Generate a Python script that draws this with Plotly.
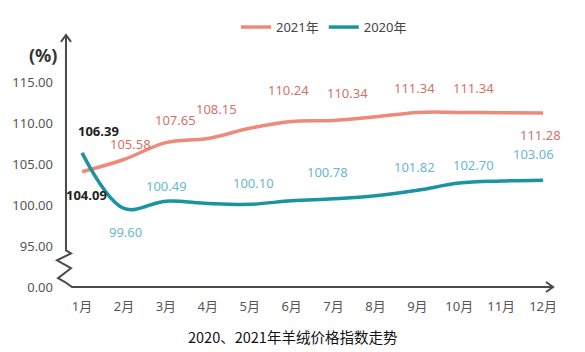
import plotly.graph_objects as go

# ---------------- data ----------------
months = ["1月", "2月", "3月", "4月", "5月", "6月", "7月", "8月", "9月", "10月", "11月", "12月"]
month_idx = list(range(1, 13))
vals_2021 = [104.09, 105.58, 107.65, 108.15, 109.40, 110.24, 110.34, 110.80, 111.34, 111.34, 111.30, 111.28]
vals_2020 = [106.39, 99.60, 100.49, 100.20, 100.10, 100.55, 100.78, 101.15, 101.82, 102.70, 102.95, 103.06]
labeled_2021 = [1, 2, 3, 4, 6, 7, 9, 10, 12]
labeled_2020 = [1, 2, 3, 5, 7, 9, 10, 12]
ytick_vals = [90, 95, 100, 105, 110, 115]
ytick_text = ["0.00", "95.00", "100.00", "105.00", "110.00", "115.00"]
title_text = "2020、2021年羊绒价格指数走势"

# ---------------- style ----------------
W, H = 585, 352
L, R, T, B = 65, 31, 33, 65
PW, PH = W - L - R, H - T - B
C21 = "#EE8A79"
C20 = "#1B94A1"
C21_TXT = "#D2736B"
C20_TXT = "#6BB7CD"
FONT = "Noto Sans, Noto Sans CJK SC"
CJK = "Noto Sans CJK SC"

# label offsets (pixels) per labeled month
off_2021 = {1: (4, -23), 2: (7, 16), 3: (10, 23), 4: (9, 29), 6: (-3, 31),
            7: (14, 28), 9: (-3, 24), 10: (14, 24), 12: (-3, -22)}
off_2020 = {1: (16, 22), 2: (2, -24), 3: (1, 15), 5: (4, 21), 7: (-6, 27),
            9: (-3, 23), 10: (14, 18), 12: (-10, 26)}

fig = go.Figure()
fig.add_trace(go.Scatter(x=month_idx, y=vals_2021, name="2021年", mode="lines",
                         line=dict(color=C21, width=3.5, shape="spline", smoothing=1.0)))
fig.add_trace(go.Scatter(x=month_idx, y=vals_2020, name="2020年", mode="lines",
                         line=dict(color=C20, width=3.5, shape="spline", smoothing=1.0)))

annotations = []
for vals, labeled, offs, col in ((vals_2021, labeled_2021, off_2021, C21_TXT),
                                 (vals_2020, labeled_2020, off_2020, C20_TXT)):
    for m in labeled:
        dx, dy = offs[m]
        first = (m == 1)
        txt = f"{vals[m-1]:.2f}"
        annotations.append(dict(x=m, y=vals[m - 1], text=f"<b>{txt}</b>" if first else txt,
                                showarrow=False, xshift=dx, yshift=dy, xanchor="center", yanchor="middle",
                                font=dict(family=FONT, size=13, color="#222222" if first else col)))


def px(xp, yp):
    return (xp - L) / PW, (287 - yp) / PH


# (%) unit label
ux, uy = px(43, 52)
annotations.append(dict(x=ux, y=uy, xref="paper", yref="paper", xanchor="center", yanchor="middle",
                        text="<b>(%)</b>", showarrow=False,
                        font=dict(family=FONT, size=18, color="#333333")))
# bottom title
tx, ty = px(292, 337)
annotations.append(dict(x=tx, y=ty, xref="paper", yref="paper", xanchor="center", yanchor="middle",
                        text=title_text, showarrow=False,
                        font=dict(family=CJK, size=14.5, color="#111111")))

axis_pts = [(66, 33), (66, 250), (71, 253), (57, 260), (71, 268), (58, 278), (65, 282), (72, 287), (553, 287)]
top_arrow = [(61, 39), (66, 32), (71, 39)]
right_arrow = [(546, 282), (553, 287), (546, 292)]


def mkpath(pts):
    return "M " + " L ".join(f"{px(a, b)[0]:.4f},{px(a, b)[1]:.4f}" for a, b in pts)


shapes = [dict(type="path", path=mkpath(p), xref="paper", yref="paper",
               line=dict(color="#4A4A4A", width=2)) for p in (axis_pts, top_arrow, right_arrow)]

lx, ly = px(324, 24)
fig.update_layout(
    width=W, height=H,
    margin=dict(l=L, r=R, t=T, b=B),
    paper_bgcolor="white", plot_bgcolor="white",
    font=dict(family=FONT, size=13, color="#555555"),
    showlegend=True,
    legend=dict(orientation="h", x=lx, xanchor="center", y=ly, yanchor="middle",
                font=dict(family=FONT, size=13, color="#444444"), bgcolor="rgba(0,0,0,0)",
                itemwidth=30, tracegroupgap=0),
    xaxis=dict(range=[0.594, 12.26], tickvals=month_idx, ticktext=months, showgrid=False,
               zeroline=False, showline=False, ticks="", ticklabelstandoff=10,
               tickfont=dict(family=FONT, size=13, color="#555555")),
    yaxis=dict(range=[90, 90 + PH / 8.28], tickvals=ytick_vals, ticktext=ytick_text, showgrid=False,
               zeroline=False, showline=False, ticks="", ticklabelstandoff=11,
               tickfont=dict(family=FONT, size=13, color="#555555")),
    annotations=annotations,
    shapes=shapes,
)

fig.write_html("out.html")
